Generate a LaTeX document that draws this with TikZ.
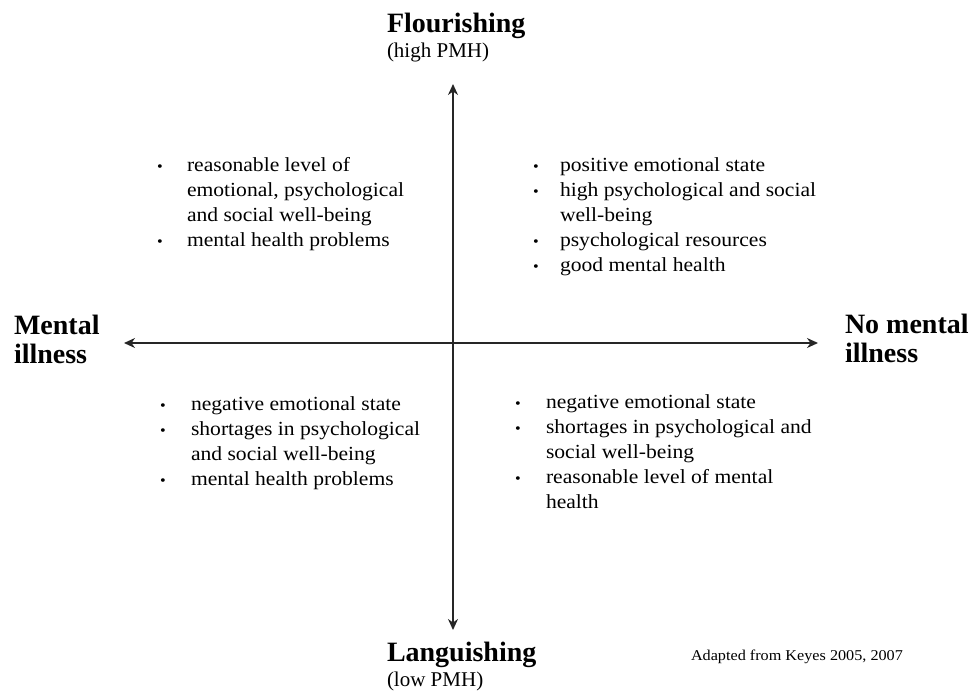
\documentclass[tikz,border=0pt]{standalone}
\usepackage{fontspec}
\setmainfont{Liberation Serif}
\newfontfamily\listfont{Liberation Serif}[FakeStretch=1.08]
\usepackage{tikz}
\usetikzlibrary{arrows.meta}
\usetikzlibrary{positioning}

\newcommand{\bul}{{\fontsize{15}{15}\selectfont\textbullet}}

\begin{document}
\begin{tikzpicture}[x=1pt, y=-1pt,
	every node/.style={inner sep=0pt, outer sep=0pt, anchor=base west},
	axislabel/.style={font=\fontsize{28}{29}\selectfont\bfseries},
	pmh/.style={font=\fontsize{21}{21}\selectfont},
	itemlist/.style={font=\listfont\fontsize{20}{25}\selectfont},
	note/.style={font=\listfont\fontsize{15}{15}\selectfont},
	axis/.style={line width=1.5pt, black!85, {Stealth[length=11pt,width=10pt,inset=3.5pt]}-{Stealth[length=11pt,width=10pt,inset=3.5pt]}}]

	\useasboundingbox (0,0) rectangle (972,699);

	\coordinate (top) at (453,84);
	\coordinate (bottom) at (453,630);
	\coordinate (left) at (124,343);
	\coordinate (right) at (818,343);
	\draw[axis] (bottom) -- (top);
	\draw[axis] (left) -- (right);

	\node[axislabel] (flour) at (387,32) {Flourishing};
	\node[pmh] (highpmh) at ([yshift=-25pt]flour.base west) {(high PMH)};
	\node[axislabel] (lang) at (387,661) {Languishing};
	\node[pmh] (lowpmh) at ([yshift=-25pt]lang.base west) {(low PMH)};
	\node[axislabel] (ill) at (14,334) {\begin{tabular}[t]{@{}l@{}}Mental\\illness\end{tabular}};
	\node[axislabel] (noill) at (845,333) {\begin{tabular}[t]{@{}l@{}}No mental\\illness\end{tabular}};

	\node[itemlist] (tl) at (157,171) {\begin{tabular}[t]{@{}p{30pt}@{}l@{}}
		\bul & reasonable level of\\
		     & emotional, psychological\\
		     & and social well-being\\
		\bul & mental health problems
	\end{tabular}};
	\node[itemlist] (tr) at (533,171) {\begin{tabular}[t]{@{}p{27pt}@{}l@{}}
		\bul & positive emotional state\\
		\bul & high psychological and social\\
		     & well-being\\
		\bul & psychological resources\\
		\bul & good mental health
	\end{tabular}};
	\node[itemlist] (bl) at (160,410) {\begin{tabular}[t]{@{}p{31pt}@{}l@{}}
		\bul & negative emotional state\\
		\bul & shortages in psychological\\
		     & and social well-being\\
		\bul & mental health problems
	\end{tabular}};
	\node[itemlist] (br) at (515,408) {\begin{tabular}[t]{@{}p{31pt}@{}l@{}}
		\bul & negative emotional state\\
		\bul & shortages in psychological and\\
		     & social well-being\\
		\bul & reasonable level of mental\\
		     & health
	\end{tabular}};

	\node[note] (src) at (691,660) {Adapted from Keyes 2005, 2007};
\end{tikzpicture}
\end{document}
